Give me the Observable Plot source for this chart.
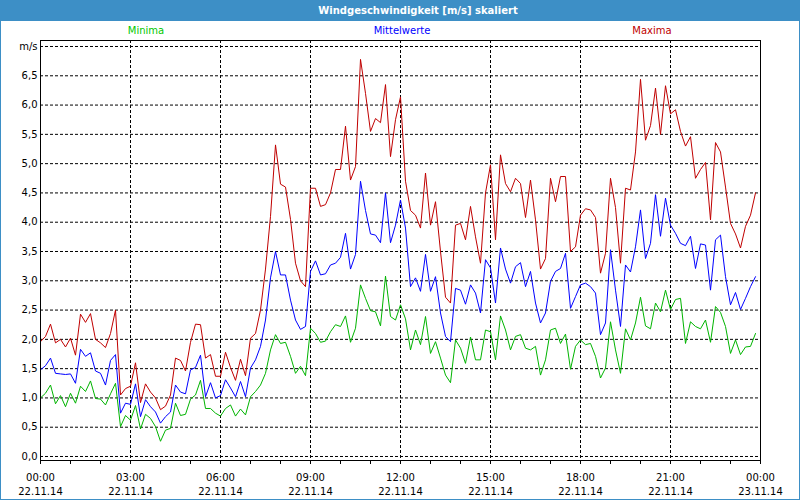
<!DOCTYPE html>
<html><head><meta charset="utf-8">
<script src="https://cdn.jsdelivr.net/npm/d3@7"></script>
<script src="https://cdn.jsdelivr.net/npm/@observablehq/plot@0.6"></script>
<style>
html,body{margin:0;padding:0;background:#fff;}
#wrap{position:relative;width:800px;height:500px;overflow:hidden;font-family:"DejaVu Sans",sans-serif;font-size:10px;}
#titlebar{position:absolute;left:0;top:0;width:800px;height:21px;background:#3d8fc6;}
#title{position:absolute;left:268px;top:0;width:300px;text-align:center;color:#fff;font-weight:bold;font-size:10px;line-height:21px;white-space:nowrap;}
.leg{position:absolute;top:25px;width:200px;text-align:center;line-height:12px;white-space:nowrap;}
#chart{position:absolute;left:0;top:21px;}
#border{position:absolute;left:0;top:0;width:800px;height:500px;box-sizing:border-box;border:1px solid #3d8fc6;pointer-events:none;}
</style>
</head><body>
<div id="wrap">
  <div id="chart"></div>
  <div id="titlebar"><div id="title">Windgeschwindigkeit [m/s] skaliert</div></div>
  <div class="leg" style="left:46px;color:#00c800">Minima</div>
  <div class="leg" style="left:302px;color:#0000ff">Mittelwerte</div>
  <div class="leg" style="left:552px;color:#c00000">Maxima</div>
  <div id="border"></div>
</div>
<script>
// 10-minute values, 22.11.14 00:00 .. 23:50
const maxima = [
  1.96, 2.05, 2.26, 1.94, 2.0, 1.87, 2.02, 1.73, 2.43, 2.29, 2.44, 2.0,
  1.94, 1.86, 2.1, 2.5, 1.05, 1.16, 1.2, 1.6, 0.92, 1.24, 1.1, 1.0,
  0.8, 0.86, 1.05, 1.68, 1.64, 1.46, 1.95, 2.26, 2.25, 1.68, 1.74, 1.37,
  1.37, 1.78, 1.52, 1.3, 1.66, 1.38, 2.02, 2.1, 2.5, 3.2, 4.1, 5.32,
  4.65, 4.6, 4.05, 3.3, 3.0, 2.9, 4.58, 4.58, 4.27, 4.3, 4.5, 4.9,
  4.9, 5.64, 4.72, 4.95, 6.78, 6.2, 5.55, 5.77, 5.7, 6.35, 5.12, 5.75,
  6.14, 4.7, 4.2, 4.12, 3.9, 4.84, 3.95, 4.35, 3.5, 2.72, 2.62, 3.95,
  3.98, 3.7, 4.27, 3.75, 3.3, 4.5, 4.98, 3.7, 5.15, 4.66, 4.52, 4.75,
  4.66, 4.08, 4.72, 4.04, 3.2, 3.38, 4.75, 4.35, 4.78, 4.78, 3.5, 3.58,
  4.12, 4.23, 4.21, 4.08, 3.13, 3.47, 4.75, 4.25, 3.3, 4.58, 4.55, 5.2,
  6.44, 5.4, 5.65, 6.29, 5.5, 6.33, 5.85, 5.92, 5.55, 5.3, 5.46, 4.75,
  4.9, 5.02, 4.04, 5.36, 5.2, 4.6, 3.98, 3.8, 3.56, 3.93, 4.12, 4.5
];
const mittelwerte = [
  1.48, 1.55, 1.68, 1.42, 1.41, 1.4, 1.41, 1.25, 1.83, 1.71, 1.77, 1.46,
  1.42, 1.22, 1.64, 1.74, 0.74, 0.91, 0.89, 1.24, 0.68, 0.97, 0.85, 0.76,
  0.57, 0.68, 0.76, 1.22, 1.1, 1.07, 1.48, 1.52, 1.73, 1.02, 1.26, 1.0,
  1.04, 1.31, 1.17, 1.02, 1.28, 1.02, 1.51, 1.65, 1.88, 2.33, 3.05, 3.5,
  3.1, 3.1, 2.67, 2.33, 2.17, 2.22, 3.16, 3.34, 3.1, 3.12, 3.27, 3.3,
  3.4, 3.81, 3.2, 3.45, 4.7, 4.2, 3.8, 3.78, 3.65, 4.5, 3.65, 3.95,
  4.38, 3.9, 2.9, 3.05, 2.82, 3.45, 2.82, 3.07, 2.45, 2.05, 1.96, 2.87,
  2.84, 2.6, 2.93, 2.79, 2.45, 3.36, 3.22, 2.62, 3.56, 3.2, 2.96, 3.24,
  3.31, 2.9, 3.16, 2.62, 2.28, 2.45, 2.99, 3.16, 3.21, 3.47, 2.53, 2.73,
  2.93, 2.96, 2.9, 2.79, 2.08, 2.28, 3.53, 2.84, 2.22, 3.27, 3.15, 3.58,
  4.21, 3.38, 3.64, 4.47, 3.76, 4.41, 3.95, 3.81, 3.64, 3.6, 3.76, 3.21,
  3.63, 3.61, 2.84, 3.7, 3.78, 3.07, 2.59, 2.8, 2.51, 2.7, 2.9, 3.07
];
const minima = [
  1.0, 1.08, 1.22, 0.9, 1.04, 0.85, 1.08, 0.91, 1.2, 1.11, 1.29, 0.99,
  0.98, 0.88, 1.07, 1.25, 0.51, 0.7, 0.62, 0.87, 0.47, 0.72, 0.65, 0.51,
  0.26, 0.45, 0.48, 0.91, 0.7, 0.72, 0.98, 1.05, 1.3, 0.82, 0.82, 0.74,
  0.69, 0.82, 0.88, 0.69, 0.81, 0.71, 1.02, 1.11, 1.22, 1.42, 1.82, 2.08,
  1.93, 1.95, 1.71, 1.42, 1.54, 1.38, 2.19, 2.1, 1.95, 1.97, 2.13, 2.25,
  2.22, 2.4, 1.95, 2.19, 2.93, 2.7, 2.49, 2.47, 2.23, 3.08, 2.39, 2.33,
  2.59, 2.35, 1.82, 2.16, 1.91, 2.39, 1.76, 1.96, 1.68, 1.39, 1.26, 1.99,
  1.85, 1.59, 2.04, 1.65, 1.65, 2.16, 2.13, 1.65, 2.4, 2.16, 1.82, 2.05,
  2.08, 1.85, 1.82, 1.88, 1.39, 1.65, 2.16, 2.19, 1.93, 2.09, 1.49, 1.88,
  1.99, 1.91, 1.93, 1.71, 1.34, 1.51, 2.3, 1.82, 1.42, 2.18, 1.99, 2.28,
  2.72, 2.23, 2.18, 2.62, 2.47, 2.84, 2.51, 2.68, 2.7, 1.93, 2.3, 2.22,
  2.18, 2.33, 1.95, 2.56, 2.46, 2.22, 1.76, 1.99, 1.74, 1.87, 1.88, 2.1
];
const yTicks = [0,0.5,1,1.5,2,2.5,3,3.5,4,4.5,5,5.5,6,6.5,7];
const yLabels = ["0,0","0,5","1,0","1,5","2,0","2,5","3,0","3,5","4,0","4,5","5,0","5,5","6,0","6,5","m/s"];
const timeLabels = ["00:00","03:00","06:00","09:00","12:00","15:00","18:00","21:00","00:00"];
const dateLabels = ["22.11.14","22.11.14","22.11.14","22.11.14","22.11.14","22.11.14","22.11.14","22.11.14","23.11.14"];

const t0 = Date.UTC(2014, 10, 22, 0, 0);
const H = 3600e3;
const rows = maxima.map((v, i) => ({t: new Date(t0 + i * 600e3), max: v, mean: mittelwerte[i], min: minima[i]}));
const labelTicks = timeLabels.map((_, k) => new Date(t0 + k * 3 * H));
const gridTicks = labelTicks.slice(1, -1);
const hourTicks = d3.range(0, 25).map(h => new Date(t0 + h * H));
const labelMap = new Map(labelTicks.map((d, k) => [+d, timeLabels[k] + "\n" + dateLabels[k]]));
const yMap = new Map(yTicks.map((v, k) => [v, yLabels[k]]));

const chart = Plot.plot({
  width: 800, height: 479,
  marginLeft: 40, marginRight: 40, marginTop: 19, marginBottom: 40,
  style: {fontFamily: "DejaVu Sans, sans-serif", fontSize: "10px", color: "#000", background: "transparent", overflow: "visible"},
  x: {type: "utc", domain: [new Date(t0), new Date(t0 + 24 * H)]},
  y: {domain: [-0.0683, 7.1024]},
  marks: [
    Plot.gridY(yTicks, {stroke: "#000", strokeOpacity: 1, strokeDasharray: "3,2"}),
    Plot.gridX(gridTicks, {stroke: "#000", strokeOpacity: 1, strokeDasharray: "3,2"}),
    Plot.line(rows, {x: "t", y: "min", stroke: "#00b400", strokeWidth: 1}),
    Plot.line(rows, {x: "t", y: "mean", stroke: "#0000ff", strokeWidth: 1}),
    Plot.line(rows, {x: "t", y: "max", stroke: "#c00000", strokeWidth: 1}),
    Plot.frame({stroke: "#000"}),
    Plot.axisY(yTicks, {tickSize: 0, tickPadding: 3, tickFormat: v => yMap.get(v), label: null}),
    Plot.axisX(hourTicks, {tickSize: 4, text: null, label: null}),
    Plot.axisX(labelTicks, {tickSize: 4, tickPadding: 6, tickFormat: d => labelMap.get(+d), lineHeight: 1.45, label: null})
  ]
});
document.getElementById("chart").appendChild(chart);
</script>
</body></html>
